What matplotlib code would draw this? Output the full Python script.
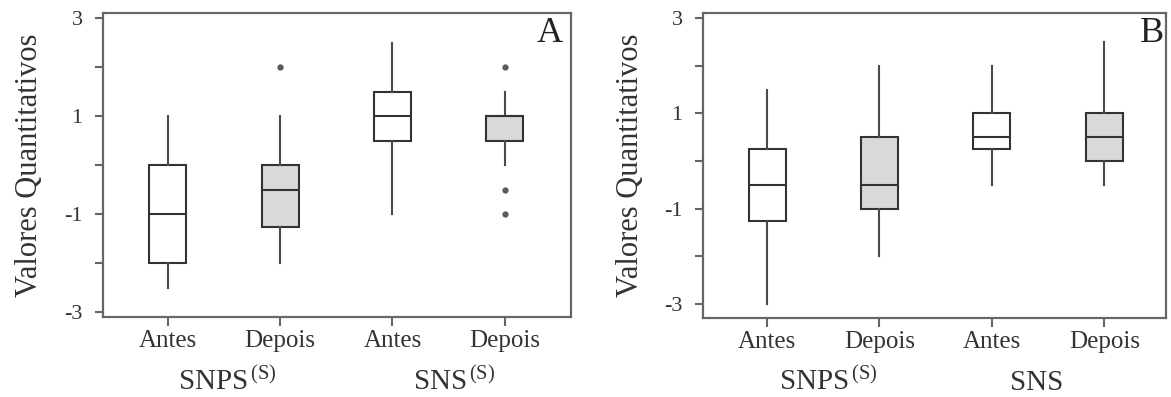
import matplotlib
matplotlib.use("Agg")
import matplotlib.pyplot as plt
from matplotlib.ticker import FixedLocator, NullFormatter

# ---- data ----
tick_labels = ["Antes", "Depois", "Antes", "Depois"]
groups_A = ["SNPS$^{\\,\\mathrm{(S)}}$", "SNS$^{\\,\\mathrm{(S)}}$"]
groups_B = ["SNPS$^{\\,\\mathrm{(S)}}$", "SNS"]

A_med = [-1, -0.5, 1, 1]
A_q1 = [-2, -1.25, 0.5, 0.5]
A_q3 = [0, 0, 1.5, 1]
A_lo = [-2.5, -2, -1, 0]
A_hi = [1, 1, 2.5, 1.5]
A_fliers = [[], [2], [], [2, -0.5, -1]]

B_med = [-0.5, -0.5, 0.5, 0.5]
B_q1 = [-1.25, -1, 0.25, 0]
B_q3 = [0.25, 0.5, 1, 1]
B_lo = [-3, -2, -0.5, -0.5]
B_hi = [1.5, 2, 2, 2.5]
B_fliers = [[], [], [], []]

fills = ["white", "#d9d9d9", "white", "#d9d9d9"]

plt.rcParams["font.family"] = ["Liberation Serif", "DejaVu Serif"]
plt.rcParams["mathtext.fontset"] = "custom"
plt.rcParams["mathtext.rm"] = "Liberation Serif"
plt.rcParams["mathtext.it"] = "Liberation Serif:italic"

TXT = "#333333"
FRAME = "#666666"
EDGE = "#333333"

fig = plt.figure(figsize=(11.71, 3.97), dpi=100)
axA = fig.add_axes([0.0877, 0.2008, 0.3999, 0.767])
axB = fig.add_axes([0.6001, 0.199, 0.3957, 0.769])


def draw(ax, med, q1, q3, lo, hi, fl, groups, letter, ylim, xlim, gxs, letter_pos, gy):
    stats = []
    for i in range(len(med)):
        stats.append(dict(med=med[i], q1=q1[i], q3=q3[i], whislo=lo[i],
                          whishi=hi[i], fliers=fl[i]))
    bp = ax.bxp(stats, positions=[1, 2, 3, 4], widths=0.33, patch_artist=True,
                showcaps=False,
                boxprops=dict(edgecolor=EDGE, linewidth=1.5),
                medianprops=dict(color=EDGE, linewidth=1.5),
                whiskerprops=dict(color="#4a4a4a", linewidth=1.5),
                flierprops=dict(marker="o", markersize=3.5, markerfacecolor="#5a5a5a",
                                markeredgecolor="#5a5a5a"))
    for patch, c in zip(bp["boxes"], fills):
        patch.set_facecolor(c)
    ax.set_ylim(*ylim)
    ax.set_xlim(*xlim)
    ax.set_xticks([1, 2, 3, 4])
    ax.set_xticklabels(tick_labels, fontsize=18, color=TXT)
    ax.yaxis.set_major_locator(FixedLocator([-3, -1, 1, 3]))
    ax.set_yticklabels(["-3", "-1", "1", "3"], fontsize=16, color=TXT)
    ax.yaxis.set_minor_locator(FixedLocator([-2, 0, 2]))
    ax.yaxis.set_minor_formatter(NullFormatter())
    ax.tick_params(axis="x", length=6.5, width=1.5, color=FRAME, pad=3)
    ax.tick_params(axis="y", which="both", length=5.5, width=1.5, color=FRAME, pad=9)
    for s in ax.spines.values():
        s.set_color(FRAME)
        s.set_linewidth(1.6)
    ax.set_ylabel("Valores Quantitativos", fontsize=22, color=TXT)
    ax.yaxis.set_label_coords(-0.125, 0.5)
    for gx, g in zip(gxs, groups):
        ax.text(gx, gy, g, transform=ax.get_xaxis_transform(), ha="center",
                va="baseline", fontsize=21, color=TXT)
    ax.text(letter_pos[0], letter_pos[1], letter, transform=ax.transAxes,
            ha="right", va="top", fontsize=26, color="#222222")


draw(axA, A_med, A_q1, A_q3, A_lo, A_hi, A_fliers, groups_A, "A",
     (-3.1, 3.108), (0.42, 4.59), [1.53, 3.55], (0.983, 0.985), -0.239)
draw(axB, B_med, B_q1, B_q3, B_lo, B_hi, B_fliers, groups_B, "B",
     (-3.29, 3.11), (0.427, 4.55), [1.54, 3.4], (0.995, 0.985), -0.236)

fig.savefig("out.png", dpi=100)
